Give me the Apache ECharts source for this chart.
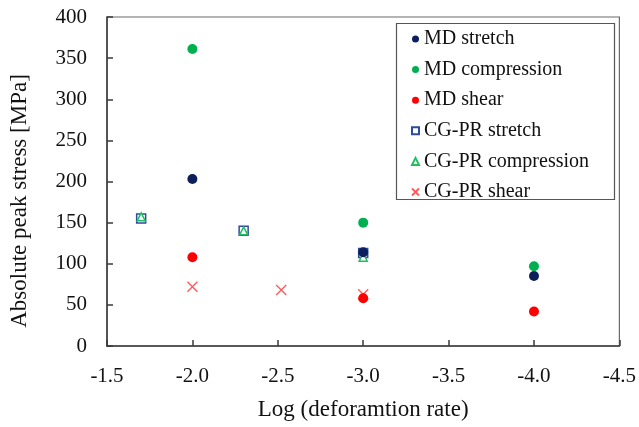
<!DOCTYPE html>
<html>
<head>
<meta charset="utf-8">
<script src="https://cdn.jsdelivr.net/npm/echarts@6/dist/echarts.min.js"></script>
<style>
  html, body { margin: 0; padding: 0; background: #fff; }
  #chart { width: 639px; height: 427px; }
</style>
</head>
<body>
<div id="chart"></div>
<script>
// Log10 of deformation rate vs. absolute peak stress [MPa]
const mdStretch       = [[-2.0, 203], [-3.0, 114], [-4.0, 85]];
const mdCompression   = [[-2.0, 361], [-3.0, 150], [-4.0, 97]];
const mdShear         = [[-2.0, 108], [-3.0, 58],  [-4.0, 42]];
const cgStretch       = [[-1.7, 155], [-2.3, 140], [-3.0, 113]];
const cgCompression   = [[-1.7, 157], [-2.3, 140], [-3.0, 108]];
const cgShear         = [[-2.0, 72],  [-2.52, 68], [-3.0, 63]];

const seriesNames = ['MD stretch', 'MD compression', 'MD shear',
                     'CG-PR stretch', 'CG-PR compression', 'CG-PR shear'];

const xMin = -4.5, xMax = -1.5, xStep = 0.5;
const yMin = 0, yMax = 400, yStep = 50;

const FONT = '"Liberation Serif", "Times New Roman", serif';
const crossPath = 'path://M0,0L10,10M10,0L0,10';

const chart = echarts.init(document.getElementById('chart'), null, { renderer: 'canvas' });

chart.setOption({
  animation: false,
  backgroundColor: '#ffffff',
  textStyle: { fontFamily: FONT },
  grid: {
    left: 107, right: 16, top: 17, bottom: 81,
    show: true, borderColor: '#6a6a6a', borderWidth: 1.2
  },
  xAxis: {
    type: 'value',
    inverse: true,
    min: xMin, max: xMax, interval: xStep,
    axisLine: { onZero: false, lineStyle: { color: '#3a3a3a', width: 1.5 } },
    axisTick: { inside: true, length: 6, lineStyle: { color: '#3a3a3a', width: 1.5 } },
    axisLabel: {
      margin: 20, color: '#111', fontSize: 21, fontFamily: FONT,
      formatter: v => v.toFixed(1)
    },
    splitLine: { show: false },
    name: 'Log (deforamtion rate)',
    nameLocation: 'middle',
    nameGap: 52,
    nameTextStyle: { color: '#111', fontSize: 23, fontFamily: FONT }
  },
  yAxis: {
    type: 'value',
    min: yMin, max: yMax, interval: yStep,
    axisLine: { onZero: false, lineStyle: { color: '#3a3a3a', width: 1.5 } },
    axisTick: { inside: true, length: 6, lineStyle: { color: '#3a3a3a', width: 1.5 } },
    axisLabel: { margin: 20, color: '#111', fontSize: 21, fontFamily: FONT },
    splitLine: { show: false }
  },
  graphic: [
    {
      type: 'text',
      x: 20, y: 201,
      rotation: Math.PI / 2,
      style: {
        text: 'Absolute peak stress [MPa]',
        fill: '#111',
        font: '23px ' + FONT,
        align: 'center',
        verticalAlign: 'middle'
      }
    },
    {
      type: 'rect',
      z: 1,
      shape: { x: 396.5, y: 23.5, width: 218, height: 176 },
      style: { fill: '#fff', stroke: '#555', lineWidth: 1.2 }
    }
  ],
  legend: {
    orient: 'vertical',
    left: 411, top: 29,
    padding: 0,
    itemWidth: 7, itemHeight: 7,
    itemGap: 10.6,
    z: 5,
    data: seriesNames,
    textStyle: { color: '#111', fontSize: 20, fontFamily: FONT, lineHeight: 20 }
  },
  series: [
    {
      name: 'CG-PR stretch', type: 'scatter', data: cgStretch, z: 2,
      symbol: 'rect', symbolSize: 9,
      itemStyle: { color: '#ffffff', borderColor: '#2f4b9c', borderWidth: 1.5, opacity: 1 }
    },
    {
      name: 'CG-PR compression', type: 'scatter', data: cgCompression, z: 3,
      symbol: 'triangle', symbolSize: 8,
      itemStyle: { color: '#ffffff', borderColor: '#1fbf60', borderWidth: 1.5, opacity: 1 }
    },
    {
      name: 'CG-PR shear', type: 'scatter', data: cgShear, z: 2,
      symbol: crossPath, symbolSize: 10,
      itemStyle: { color: 'rgba(0,0,0,0)', borderColor: '#ff5c5c', borderWidth: 1.4, opacity: 1 }
    },
    {
      name: 'MD stretch', type: 'scatter', data: mdStretch, z: 4,
      symbol: 'circle', symbolSize: 10,
      itemStyle: { color: '#0c1f5c', opacity: 1 }
    },
    {
      name: 'MD compression', type: 'scatter', data: mdCompression, z: 4,
      symbol: 'circle', symbolSize: 10,
      itemStyle: { color: '#00b050', opacity: 1 }
    },
    {
      name: 'MD shear', type: 'scatter', data: mdShear, z: 4,
      symbol: 'circle', symbolSize: 10,
      itemStyle: { color: '#ff0000', opacity: 1 }
    }
  ]
});
</script>
</body>
</html>
